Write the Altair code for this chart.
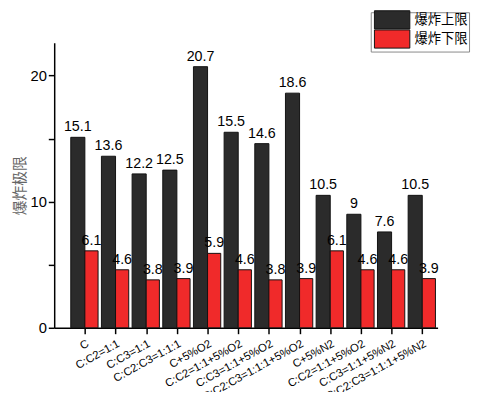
import altair as alt
import pandas as pd

categories = ["C", "C:C2=1:1", "C:C3=1:1", "C:C2:C3=1:1:1", "C+5%O2", "C:C2=1:1+5%O2",
              "C:C3=1:1+5%O2", "C:C2:C3=1:1:1+5%O2", "C+5%N2", "C:C2=1:1+5%O2",
              "C:C3=1:1+5%N2", "C:C2:C3=1:1:1+5%N2"]
upper = [15.1, 13.6, 12.2, 12.5, 20.7, 15.5, 14.6, 18.6, 10.5, 9, 7.6, 10.5]
lower = [6.1, 4.6, 3.8, 3.9, 5.9, 4.6, 3.8, 3.9, 6.1, 4.6, 4.6, 3.9]
series = ["爆炸上限", "爆炸下限"]
colors = ["#2b2b2b", "#f02a2a"]

rows = []
for i, c in enumerate(categories):
    rows.append({"idx": i + 1, "cat": c, "series": series[0], "value": upper[i], "lab": f"{upper[i]:g}"})
    rows.append({"idx": i + 1, "cat": c, "series": series[1], "value": lower[i], "lab": f"{lower[i]:g}"})
df = pd.DataFrame(rows)

label_expr = "[" + ",".join(f"'{c}'" for c in categories) + "][datum.value - 1]"

base = alt.Chart(df).transform_calculate(
    x0="datum.series == '爆炸上限' ? datum.idx - 0.46 : datum.idx",
    x1="datum.series == '爆炸上限' ? datum.idx : datum.idx + 0.43",
    xm="(datum.x0 + datum.x1) / 2",
)

xscale = alt.Scale(domain=[0, 12.5], nice=False, zero=False)
yscale = alt.Scale(domain=[0, 22.6], nice=False)

xaxis = alt.Axis(values=list(range(1, 13)), labelExpr=label_expr, title=None,
                 labelAngle=331, labelAlign="right", labelBaseline="top",
                 labelOverlap=False, labelBound=False, labelFlush=False,
                 labelFont="Arial", labelFontSize=11.5, labelColor="#000000",
                 tickColor="#000000", domainColor="#000000", tickSize=6,
                 labelPadding=4, grid=False)
yaxis = alt.Axis(values=[0, 5, 10, 15, 20],
                 labelExpr="datum.value % 10 == 0 ? datum.label : ''",
                 title="爆炸极限", titleFont="Noto Sans CJK SC", titleFontSize=15,
                 titleFontWeight="normal", titleColor="#666666", titlePadding=3,
                 labelFont="Arial", labelFontSize=15, labelColor="#000000",
                 tickColor="#000000", domainColor="#000000", tickSize=6,
                 labelOverlap=False, grid=False)

bars = base.mark_bar(stroke="#111111", strokeWidth=1).encode(
    x=alt.X("x0:Q", scale=xscale, axis=xaxis),
    x2="x1:Q",
    y=alt.Y("value:Q", scale=yscale, axis=yaxis),
    y2=alt.datum(0),
    color=alt.Color("series:N", scale=alt.Scale(domain=series, range=colors),
                    legend=alt.Legend(title=None, orient="none", legendX=322, legendY=-31,
                                      symbolType="M-3.6,-1.85H3.6V1.85H-3.6Z", symbolSize=100,
                                      symbolStrokeColor="#111111", symbolStrokeWidth=1,
                                      symbolOpacity=1, symbolOffset=14,
                                      labelFont="Noto Sans CJK SC", labelFontSize=13.5,
                                      labelColor="#000000", rowPadding=-3.5,
                                      strokeColor="#888888", padding=1, labelOffset=16)),
)

texts = base.mark_text(baseline="bottom", dy=-3, font="Arial", fontSize=14.5, color="#000000").encode(
    x=alt.X("xm:Q", scale=xscale, axis=xaxis),
    y=alt.Y("value:Q", scale=yscale, axis=yaxis),
    text="lab:N",
)

chart = alt.layer(bars, texts).properties(
    width=390, height=290,
    autosize=alt.AutoSizeParams(type="none"),
    padding={"left": 47, "top": 32, "right": 35, "bottom": 62},
).configure_view(stroke=None).configure_axis(domainWidth=1.5, tickWidth=1.5)

chart.save("out.html", embed_options={"renderer": "svg", "actions": False})
